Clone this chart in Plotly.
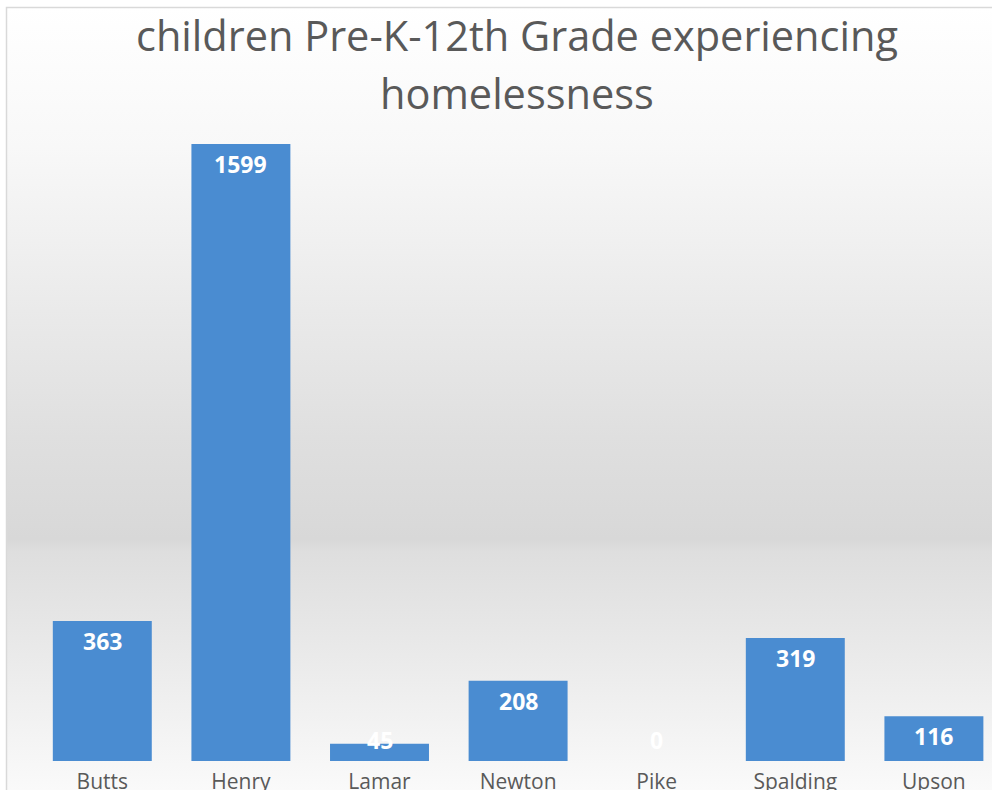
import base64
import plotly.graph_objects as go

categories = ["Butts", "Henry", "Lamar", "Newton", "Pike", "Spalding", "Upson"]
values = [363, 1599, 45, 208, 0, 319, 116]
title_lines = ["children Pre-K-12th Grade experiencing", "homelessness"]

W, H = 992, 790
ML, MR, MT, MB = 33, 0, 125, 29
plot_w = W - ML - MR
plot_h = H - MT - MB
px_per_unit = 0.3859
y_max = plot_h / px_per_unit
cat_px = 138.6
x_hi = -0.5 + plot_w / cat_px

# background gradient (chart area) as svg
svg = '''<svg xmlns="http://www.w3.org/2000/svg" width="986" height="783" viewBox="0 0 986 783" preserveAspectRatio="none">
<defs><linearGradient id="g" x1="0" y1="0" x2="0" y2="1">
<stop offset="0" stop-color="#ffffff"/>
<stop offset="0.18" stop-color="#f8f8f8"/>
<stop offset="0.55" stop-color="#dfdfdf"/>
<stop offset="0.68" stop-color="#d8d8d8"/>
<stop offset="0.695" stop-color="#dedede"/>
<stop offset="0.85" stop-color="#ececec"/>
<stop offset="1" stop-color="#fafafa"/>
</linearGradient></defs>
<rect x="0" y="0" width="986" height="783" fill="url(#g)"/>
</svg>'''
src = "data:image/svg+xml;base64," + base64.b64encode(svg.encode()).decode()


def px_to_paper_x(p):
    return (p - ML) / plot_w


def px_to_paper_y(p):
    return (H - MB - p) / plot_h


fig = go.Figure()
fig.add_trace(go.Bar(
    x=categories, y=values,
    marker=dict(color="#4a8cd1", line=dict(width=0)),
    width=0.714,
    hoverinfo="x+y",
))

# data labels (inside end, kept above the axis like Excel does for tiny bars)
label_floor = 106
for c, v in zip(categories, values):
    fig.add_annotation(x=c, y=max(v, label_floor), yshift=-20, text=f"<b>{v}</b>",
                       showarrow=False, yanchor="middle",
                       font=dict(family="Open Sans", size=23, color="#ffffff"))

# title (two lines)
for line, cy in zip(title_lines, [35, 93]):
    fig.add_annotation(xref="paper", yref="paper", x=px_to_paper_x(517), y=px_to_paper_y(cy),
                       text=line, showarrow=False, xanchor="center", yanchor="middle",
                       font=dict(family="Open Sans", size=41.5, color="#595959"))

fig.add_layout_image(dict(source=src, xref="paper", yref="paper",
                          x=px_to_paper_x(6), y=px_to_paper_y(7),
                          sizex=(W - 6) / plot_w, sizey=(H - 7) / plot_h,
                          xanchor="left", yanchor="top", sizing="stretch", layer="below"))
fig.add_shape(type="rect", xref="paper", yref="paper",
              x0=px_to_paper_x(6.5), y0=px_to_paper_y(800), x1=px_to_paper_x(1010), y1=px_to_paper_y(7.5),
              line=dict(color="#d9d9d9", width=1.5), fillcolor="rgba(0,0,0,0)", layer="above")

fig.update_layout(
    width=W, height=H,
    margin=dict(l=ML, r=MR, t=MT, b=MB, pad=0, autoexpand=False),
    paper_bgcolor="#ffffff",
    plot_bgcolor="rgba(0,0,0,0)",
    showlegend=False,
    xaxis=dict(range=[-0.5, x_hi], showgrid=False, zeroline=False, showline=False,
               ticks="", ticklabelstandoff=6, automargin=False,
               tickfont=dict(family="Open Sans", size=21, color="#595959")),
    yaxis=dict(range=[0, y_max], visible=False, automargin=False),
)

fig.write_html("out.html",
               config={"displayModeBar": False},
               post_script="document.body.style.margin='0';document.body.style.overflow='hidden';")
